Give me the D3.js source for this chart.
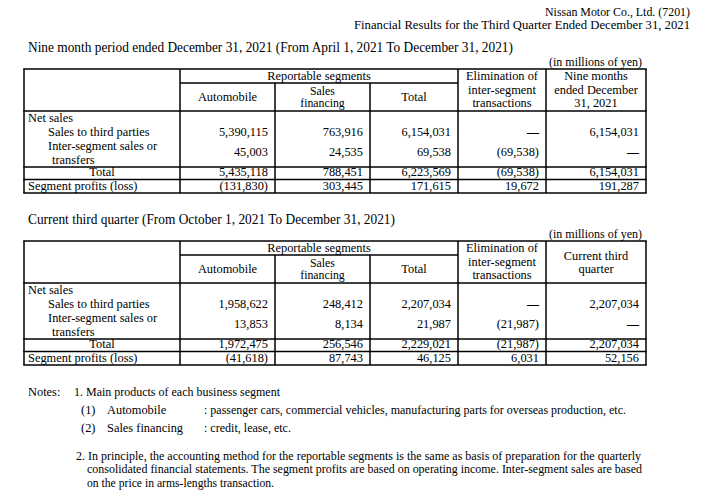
<!DOCTYPE html>
<html><head><meta charset="utf-8">
<script src="https://cdn.jsdelivr.net/npm/d3@7"></script>
<style>body{margin:0;background:#fff} svg{display:block}</style>
</head><body><svg id="c" width="704" height="504"></svg>
<script>
// ---------------- DATA ----------------
const companyLines = ["Nissan Motor Co., Ltd. (7201)", "Financial Results for the Third Quarter Ended December 31, 2021"];
const periodTitles = ["Nine month period ended December 31, 2021 (From April 1, 2021 To December 31, 2021)",
                      "Current third quarter (From October 1, 2021 To December 31, 2021)"];
const unitLabel = "(in millions of yen)";
const groupHeader = "Reportable segments";
const segmentHeaders = [["Automobile"], ["Sales", "financing"], ["Total"]];
const eliminationHeader = ["Elimination of", "inter-segment", "transactions"];
const consolidatedHeaders = [["Nine months", "ended December", "31, 2021"], ["Current third", "quarter"]];
const netSalesLabel = "Net sales";
const rowLabels = [["Sales to third parties"], ["Inter-segment sales or", "transfers"], ["Total"], ["Segment profits (loss)"]];

const nineAutomobile     = [5390115, 45003, 5435118, -131830];
const nineSalesFinancing = [763916, 24535, 788451, 303445];
const nineTotal          = [6154031, 69538, 6223569, 171615];
const nineElimination    = [null, -69538, -69538, 19672];
const nineConsolidated   = [6154031, null, 6154031, 191287];

const q3Automobile     = [1958622, 13853, 1972475, -41618];
const q3SalesFinancing = [248412, 8134, 256546, 87743];
const q3Total          = [2207034, 21987, 2229021, 46125];
const q3Elimination    = [null, -21987, -21987, 6031];
const q3Consolidated   = [2207034, null, 2207034, 52156];

const notesHead = ["Notes:", "1. Main products of each business segment"];
const noteSegments = [["(1)", "Automobile", ": passenger cars, commercial vehicles, manufacturing parts for overseas production, etc."],
                      ["(2)", "Sales financing", ": credit, lease, etc."]];
const note2Lines = ["2. In principle, the accounting method for the reportable segments is the same as basis of preparation for the quarterly",
                    "consolidated financial statements. The segment profits are based on operating income. Inter-segment sales are based",
                    "on the price in arms-lengths transaction."];

// ---------------- LAYOUT ----------------
const FONT = "'Liberation Serif','Times New Roman',serif";
const INK = "#000";
const svg = d3.select("#c");
svg.append("rect").attr("width", 704).attr("height", 504).attr("fill", "#fff");

const colKeys = ["label", "auto", "sf", "total", "elim", "cons", "end"];
const x = d3.scaleOrdinal().domain(colKeys).range([24, 180, 275, 370, 458, 546, 646]);
const rowKeys = ["top", "mid", "head", "totalRow", "profitRow", "bottom"];
const rowOffsets = [0, 14, 42, 98, 110.5, 124];

const fmt = d3.format(",");
const show = v => v == null ? "\u2014" : (v < 0 ? "(" + fmt(-v) + ")" : fmt(v));

function txt(g, xx, yy, s, o = {}) {
  const t = g.append("text").attr("x", xx).attr("y", yy).text(s)
    .attr("font-family", FONT).attr("font-size", o.size || 12.4).attr("fill", INK)
    .attr("text-anchor", o.anchor || "start");
  if (o.len) t.attr("textLength", o.len).attr("lengthAdjust", "spacingAndGlyphs");
  if (o.bold) t.attr("font-weight", "bold");
  return t;
}

// company header (right aligned at 690)
txt(svg, 545, 16, companyLines[0], {size: 12, len: 145});
txt(svg, 354, 29, companyLines[1], {size: 12, len: 336});

function drawTable(top, title, titleLen, consHeader, series) {
  const y = d3.scaleOrdinal().domain(rowKeys).range(rowOffsets.map(o => top + o));
  const g = svg.append("g");
  txt(g, 28, top - 17, title, {size: 14.5, len: titleLen});
  txt(g, 642, top - 3, unitLabel, {anchor: "end", size: 12});

  const line = (x1, y1, x2, y2) => g.append("line").attr("x1", x1).attr("y1", y1).attr("x2", x2).attr("y2", y2)
    .attr("stroke", "#000").attr("stroke-width", 1.5);
  // horizontal rules
  ["top", "head", "totalRow", "profitRow", "bottom"].forEach(k => line(x("label") - 0.75, y(k), x("end") + 0.75, y(k)));
  line(x("auto"), y("mid"), x("elim"), y("mid"));
  // vertical rules
  ["label", "auto", "elim", "cons", "end"].forEach(k => line(x(k), y("top"), x(k), y("bottom")));
  ["sf", "total"].forEach(k => line(x(k), y("mid"), x(k), y("bottom")));

  // headers
  const mid = (a, b) => (x(a) + x(b)) / 2;
  txt(g, mid("auto", "elim"), y("top") + 11, groupHeader, {anchor: "middle"});
  const segCols = [["auto", "sf"], ["sf", "total"], ["total", "elim"]];
  segmentHeaders.forEach((lines, i) => {
    const cx = mid(segCols[i][0], segCols[i][1]);
    if (lines.length === 1) txt(g, cx, y("top") + 32, lines[0], {anchor: "middle"});
    else lines.forEach((l, j) => txt(g, cx, y("top") + 25.5 + j * 12.5, l, {anchor: "middle", size: 11.8}));
  });
  eliminationHeader.forEach((l, j) => txt(g, mid("elim", "cons"), y("top") + 11 + j * 13.5, l, {anchor: "middle"}));
  if (consHeader.length === 3) consHeader.forEach((l, j) => txt(g, mid("cons", "end"), y("top") + 11 + j * 13.5, l, {anchor: "middle"}));
  else consHeader.forEach((l, j) => txt(g, mid("cons", "end"), y("top") + 19 + j * 13, l, {anchor: "middle"}));

  // row labels
  const h = y("head");
  txt(g, 28, h + 10.5, netSalesLabel);
  txt(g, 48, h + 25, rowLabels[0][0]);
  txt(g, 48, h + 39, rowLabels[1][0]);
  txt(g, 52, h + 53, rowLabels[1][1]);
  txt(g, mid("label", "auto"), y("totalRow") + 9, rowLabels[2][0], {anchor: "middle"});
  txt(g, 28, y("profitRow") + 10, rowLabels[3][0]);

  // values
  const rowBase = [h + 25, h + 45, y("totalRow") + 9, y("profitRow") + 10];
  const valueCols = ["sf", "total", "elim", "cons", "end"]; // right edges of value columns
  series.forEach((vals, ci) => {
    const rx = x(valueCols[ci]) - 7;
    vals.forEach((v, ri) => {
      if (v == null) txt(g, rx, rowBase[ri], show(v), {anchor: "end", bold: true, size: 12});
      else txt(g, rx, rowBase[ri], show(v), {anchor: "end"});
    });
  });
}

drawTable(69, periodTitles[0], 485, consolidatedHeaders[0],
  [nineAutomobile, nineSalesFinancing, nineTotal, nineElimination, nineConsolidated]);
drawTable(241, periodTitles[1], 367, consolidatedHeaders[1],
  [q3Automobile, q3SalesFinancing, q3Total, q3Elimination, q3Consolidated]);

// notes
const ng = svg.append("g");
txt(ng, 28, 396, notesHead[0]);
txt(ng, 74, 396, notesHead[1], {len: 206});
noteSegments.forEach((r, i) => {
  const yy = 414 + i * 18;
  txt(ng, 81, yy, r[0]);
  txt(ng, 107, yy, r[1]);
  txt(ng, 204, yy, r[2], i === 0 ? {len: 422} : {len: 87});
});
txt(ng, 76, 460, note2Lines[0], {len: 565});
txt(ng, 87, 473, note2Lines[1], {len: 555});
txt(ng, 87, 487, note2Lines[2], {len: 187});
</script></body></html>
